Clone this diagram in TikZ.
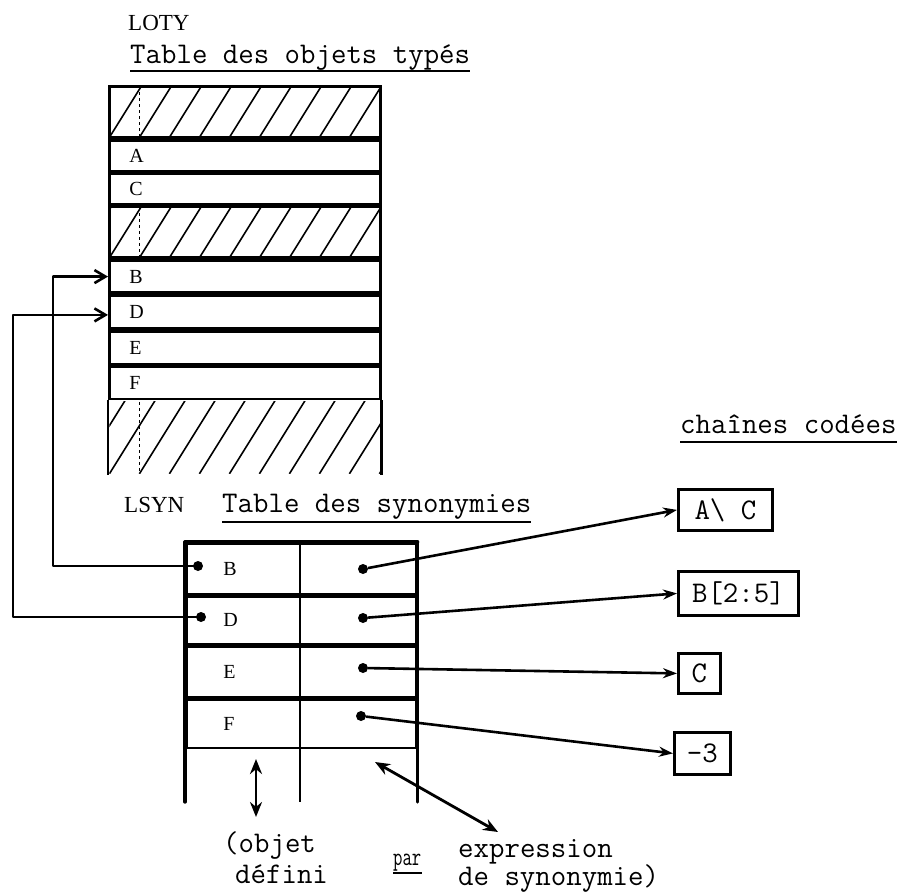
\documentclass[tikz,border=0pt]{standalone}
\usepackage{fontspec}
\usepackage{graphicx}
\usepackage{tikz}
\usetikzlibrary{arrows.meta,positioning,calc}
\newfontfamily\capfont{Liberation Serif}
\newcommand\twfont{\ttfamily\fontsize{30}{36}\selectfont}
\newcommand\lbfont{\capfont\fontsize{23}{27}\selectfont}
\newcommand\rwfont{\capfont\fontsize{20}{24}\selectfont}
\newcommand\parfont{\ttfamily\fontsize{26}{30}\selectfont}
\tikzset{
  cell/.style={
    draw, line width=2.8pt, anchor=north west, inner sep=0pt,
    inner xsep=20pt, text width=231pt, align=left,
    minimum width=271pt, font=\rwfont
  },
  hatch/.style={
    cell,
    path picture={
      \foreach \k in {-3,...,10}
        \draw[line width=1.6pt] ($(path picture bounding box.south west)+(\k*30,0)$) -- ++(48,-77);
      \draw[line width=1.4pt, dashed]
        ($(path picture bounding box.north west)+(30,0)$) -- ($(path picture bounding box.south west)+(30,0)$);
    }
  },
  syn/.style={
    draw, line width=2.6pt, anchor=north west, inner sep=0pt,
    inner xsep=37pt, text width=156pt, align=left,
    minimum width=230pt, font=\rwfont
  },
  outer/.style={line width=3.4pt, line cap=round},
  mid/.style={line width=1.8pt},
  dot/.style={circle, fill=black, inner sep=0pt, minimum size=10pt},
  chbox/.style={draw, line width=2.8pt, inner sep=0pt, anchor=north west, font=\twfont},
  lbl/.style={inner sep=0pt, anchor=base west, font=\lbfont},
  tw/.style={inner sep=0pt, anchor=base west, font=\twfont},
  uline/.style={line width=1.8pt},
  ptr/.style={-{Straight Barb[length=11pt,width=13pt]}, line width=2.6pt},
  toch/.style={-{Stealth[length=14pt,width=10pt]}, line width=2.6pt},
  dbl/.style={{Stealth[length=15pt,width=12pt]}-{Stealth[length=15pt,width=12pt]}, line width=2.8pt}
}
\begin{document}
\begin{tikzpicture}[x=1pt, y=-1pt]
  \useasboundingbox (0,0) rectangle (905,894);
  % LOTY
  \node[lbl] (loty) at (128,30) {LOTY};
  \node[tw] (tobj) at (130,63) {Table des objets typés};
  \draw[uline] ($(tobj.base west)+(0,8)$) -- ($(tobj.base east)+(0,8)$);
  \node[hatch, minimum height=51pt] (h1) at (108,85) {};
  \node[cell, minimum height=31pt] (tA) at (h1.south west) {A};
  \node[cell, minimum height=30pt] (tC) at (tA.south west) {C};
  \node[hatch, minimum height=51pt] (h2) at (tC.south west) {};
  \node[cell, minimum height=32pt] (tB) at (h2.south west) {B};
  \node[cell, minimum height=33pt] (tD) at (tB.south west) {D};
  \node[cell, minimum height=33pt] (tE) at (tD.south west) {E};
  \node[cell, minimum height=32pt] (tF) at (tE.south west) {F};
  \node[hatch, draw=none, minimum height=72pt] (h3) at (tF.south west) {};
  \draw[line width=2.8pt] (h3.north west) -- (h3.south west);
  \draw[line width=2.8pt] (h3.north east) -- (h3.south east);
  % LSYN
  \node[lbl] (lsyn) at (124,512) {LSYN};
  \node[tw] (tsyn) at (222,512) {Table des synonymies};
  \draw[uline] ($(tsyn.base west)+(0,10)$) -- ($(tsyn.base east)+(0,10)$);
  \node[syn, minimum height=51pt] (sB) at (185,542) {B};
  \node[syn, minimum height=47pt] (sD) at (sB.south west) {D};
  \node[syn, minimum height=51pt] (sE) at (sD.south west) {E};
  \node[syn, minimum height=48pt] (sF) at (sE.south west) {F};
  \node[syn, draw=none, minimum height=50pt] (sX) at (sF.south west) {};
  \draw[outer] (sB.north west) -- (sB.north east);
  \draw[outer] (sB.north west) -- (sX.south west);
  \draw[outer] (sB.north east) -- (sX.south east);
  \draw[mid] ($(sB.north west)!0.496!(sB.north east)$) -- ($(sX.south west)!0.496!(sX.south east)$);
  \node[dot] (dB) at (198,566) {};
  \node[dot] (dD) at (201,617) {};
  \node[dot] (rB) at (363,569) {};
  \node[dot] (rD) at (363,618) {};
  \node[dot] (rE) at (363,668) {};
  \node[dot] (rF) at (361,716) {};
  % chaines
  \node[tw] (tch) at (680,433) {chaînes codées};
  \draw[uline] ($(tch.base west)+(0,9)$) -- ($(tch.base east)+(0,9)$);
  \node[chbox, minimum width=94pt, minimum height=41pt] (kAC) at (677,488) {A\textbackslash\ C};
  \node[chbox, minimum width=120pt, minimum height=44pt] (kB) at (677,570) {B[2:5]};
  \node[chbox, minimum width=42pt, minimum height=40pt] (kC) at (677,652) {C};
  \node[chbox, minimum width=56pt, minimum height=42pt] (kM) at (673,731) {-3};
  \draw[toch] (rB) -- (kAC.west);
  \draw[toch] (rD) -- (kB.west);
  \draw[toch] (rE) -- (kC.west);
  \draw[toch] (rF) -- (kM.west);
  % renvois
  \draw[ptr, line join=round] (dB.center) -- ++(-145,0) |- (tB.west);
  \draw[ptr, line join=round] (dD.center) -- ++(-188,0) |- ($(tD.west)+(0,3)$);
  % legende
  \coordinate (pL1) at (256,759);
  \coordinate (pL2) at (256,817);
  \coordinate (pR1) at (375,762);
  \coordinate (pR2) at (498,832);
  \draw[dbl] (pL1) -- (pL2);
  \draw[dbl] (pR1) -- (pR2);
  \node[tw] (tob) at (223,852) {(objet};
  \node[tw] (tdef) at (235,883) {défini};
  \node[inner sep=0pt, anchor=base west, font=\parfont] (tpar) at (393,865) {\scalebox{0.7}[1]{par}};
  \draw[uline] ($(tpar.base west)+(0,8)$) -- ($(tpar.base east)+(0,8)$);
  \node[tw] (texp) at (458,857) {expression};
  \node[tw] (tde) at (458,885) {de synonymie)};
\end{tikzpicture}
\end{document}
